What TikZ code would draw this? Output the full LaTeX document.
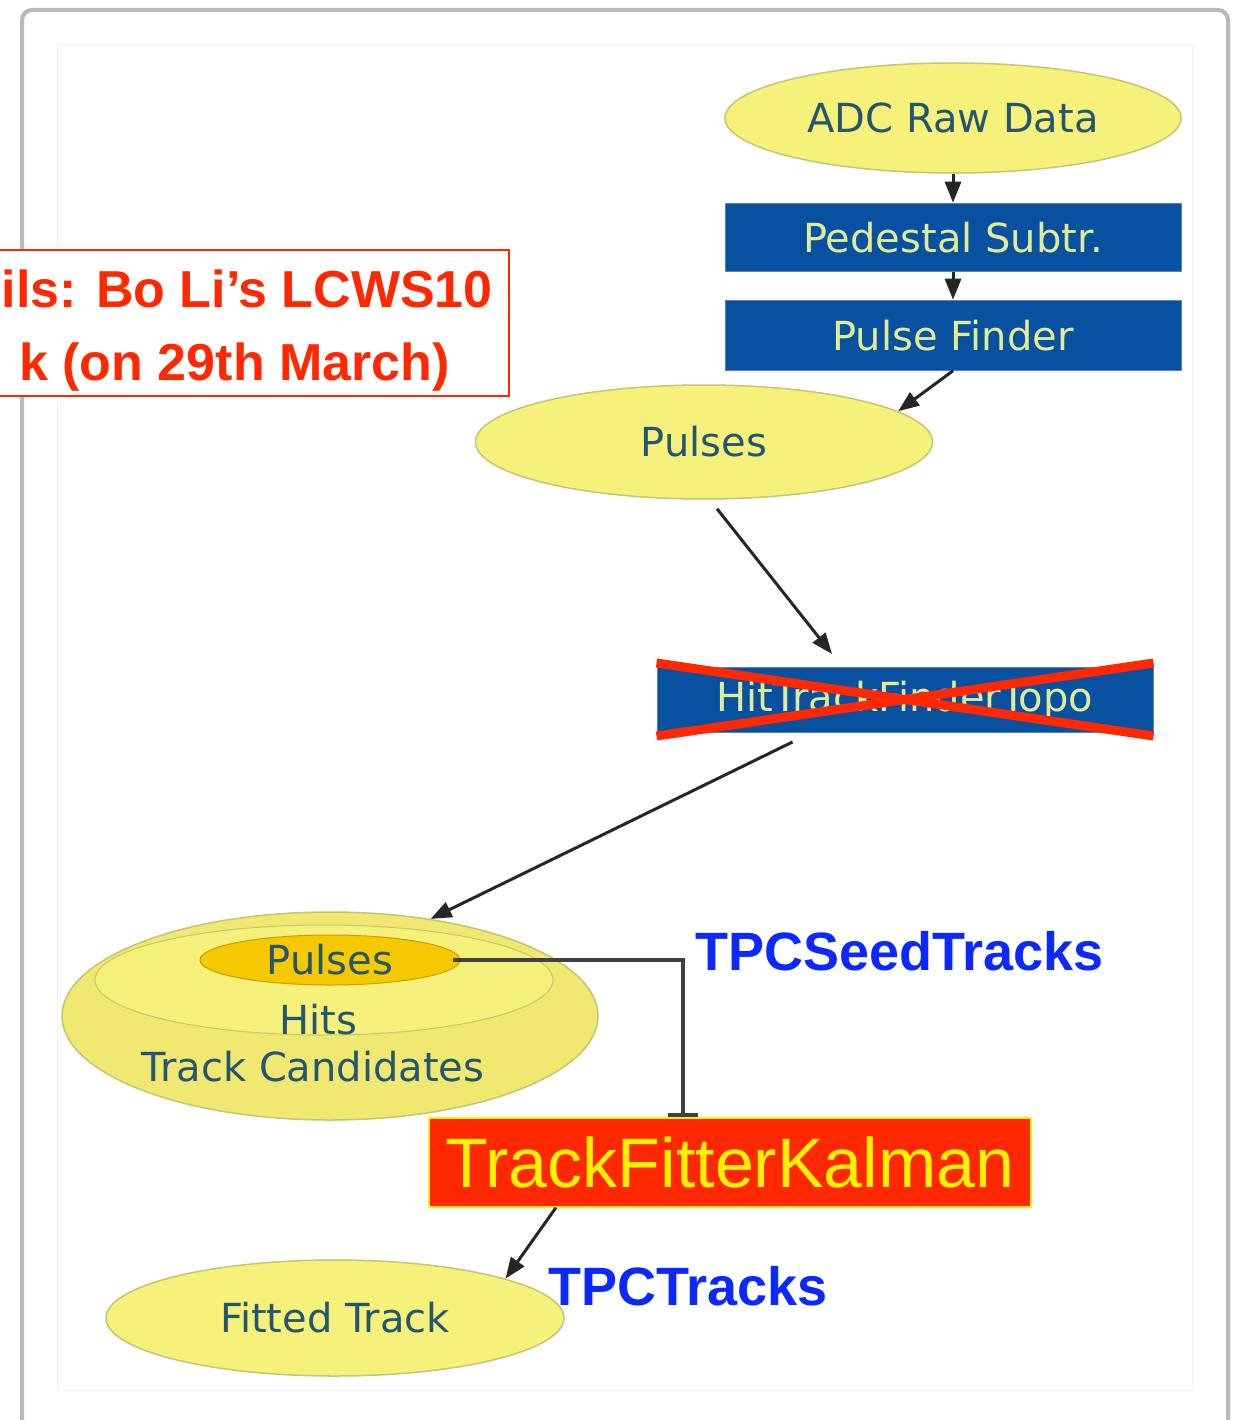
\documentclass[tikz,border=0pt]{standalone}
\usepackage{fontspec}
\setmainfont{DejaVu Sans}
\newfontfamily\notefont{Liberation Sans}
\usetikzlibrary{shapes.geometric, arrows.meta, positioning, calc}
\definecolor{nodeyellow}{RGB}{246,241,122}
\definecolor{bowlyellow}{RGB}{240,232,112}
\definecolor{nodeedge}{RGB}{196,198,112}
\definecolor{nodetext}{RGB}{36,86,112}
\definecolor{stepblue}{RGB}{8,80,160}
\definecolor{steptext}{RGB}{226,236,150}
\definecolor{seedgold}{RGB}{246,200,0}
\definecolor{crossred}{RGB}{255,40,0}
\definecolor{labelblue}{RGB}{10,40,255}

\tikzset{
  dataellipse/.style={ellipse, fill=nodeyellow, draw=nodeedge, line width=1.5pt,
                      inner sep=0pt, text=nodetext, font=\fontsize{40}{44}\selectfont},
  procbox/.style={rectangle, fill=stepblue, draw=stepblue!70!white, line width=1pt,
                  inner sep=0pt, text=steptext, font=\fontsize{40}{44}\selectfont},
  plaintext/.style={inner sep=0pt, text=nodetext, font=\fontsize{40}{44}\selectfont},
  flowarrow/.style={-{Triangle[length=21pt,width=16pt]}, line width=3pt, draw=black!85},
  seedline/.style={-{Bar[width=30pt]}, line width=3.5pt, draw=black!75},
  collname/.style={inner sep=0pt, text=labelblue, font=\notefont\bfseries\fontsize{54}{58}\selectfont},
  noteline/.style={inner sep=0pt, text=crossred, font=\notefont\bfseries\fontsize{52}{58}\selectfont},
}

\begin{document}
\begin{tikzpicture}[x=1pt, y=-1pt]
\useasboundingbox (0,0) rectangle (1233,1420);
\clip (0,0) rectangle (1233,1420);
\fill[white] (0,0) rectangle (1233,1420);

% slide frame
\draw[gray!55, line width=4pt, rounded corners=10pt, fill=white] (22,10) rectangle (1228,1460);
\draw[gray!10, line width=1pt] (57,45) rectangle (1192,1390);

% upper chain
\node[dataellipse, minimum width=456pt, minimum height=110pt] (adc) at (953,118) {ADC Raw Data};
\node[procbox, minimum width=456pt, minimum height=68pt, below=29pt of adc] (pedestal) {Pedestal Subtr.};
\node[procbox, minimum width=456pt, minimum height=70pt, below=28pt of pedestal] (pulsefinder) {Pulse Finder};
\node[dataellipse, minimum width=457pt, minimum height=114pt] (pulses) at (704,442) {Pulses};

% crossed-out finder
\node[procbox, minimum width=496pt, minimum height=65pt] (hittopo) at (905,700) {HitTrackFinderTopo};
\draw[crossred, line width=9pt] ([yshift=4pt]hittopo.north west) -- ([yshift=-3pt]hittopo.south east);
\draw[crossred, line width=9pt] ([yshift=-3pt]hittopo.south west) -- ([yshift=4pt]hittopo.north east);

% nested collections
\node[dataellipse, fill=bowlyellow, minimum width=536pt, minimum height=208pt] (bowl) at (330,1016) {};
\node[dataellipse, line width=1pt, minimum width=458pt, minimum height=110pt] (ring) at (324,980) {};
\node[dataellipse, fill=seedgold, draw=seedgold!80!black, line width=1pt,
      minimum width=260pt, minimum height=50pt] (seed) at (330,960) {Pulses};
\node[plaintext] (hits) at (318,1020) {Hits};
\node[plaintext] (cands) at (313,1067) {Track Candidates};

% fitter and result
\node[rectangle, fill=crossred, draw=yellow, line width=2pt, inner sep=0pt,
      minimum width=602pt, minimum height=89pt, text=yellow,
      font=\notefont\fontsize{70}{74}\selectfont] (fitter) at (730,1162) {TrackFitterKalman};
\node[dataellipse, minimum width=458pt, minimum height=116pt] (fitted) at (335,1318) {Fitted Track};

\node[collname, anchor=base west] (seedlabel) at (695,970) {TPCSeedTracks};
\node[collname, anchor=base west] (trackslabel) at (548,1305) {TPCTracks};

% note box
\node[draw=crossred, line width=2pt, fill=white, minimum width=514pt, minimum height=146pt] (note) at (252,323) {};
\node[noteline, anchor=base east] (noteone) at (493,307) {ils: Bo Li’s LCWS10};
\node[noteline, anchor=base east] (notetwo) at (450,380) {k (on 29th March)};

% connectors
\draw[flowarrow] (adc) -- (pedestal);
\draw[flowarrow] (pedestal) -- (pulsefinder);
\draw[flowarrow] (pulsefinder.south) -- (pulses.9);
\draw[flowarrow] ([xshift=13pt,yshift=-9pt]pulses.south) -- ([xshift=-73pt,yshift=13pt]hittopo.north);
\draw[flowarrow] ([xshift=136pt,yshift=-9pt]hittopo.south west) -- (bowl.44);
\coordinate (turn) at (683,960);
\draw[seedline] ([xshift=-8pt]seed.east) -- (turn) -- (turn |- fitter.north);
\draw[flowarrow] ([xshift=128pt]fitter.south west) -- (fitted.13);
\end{tikzpicture}
\end{document}
